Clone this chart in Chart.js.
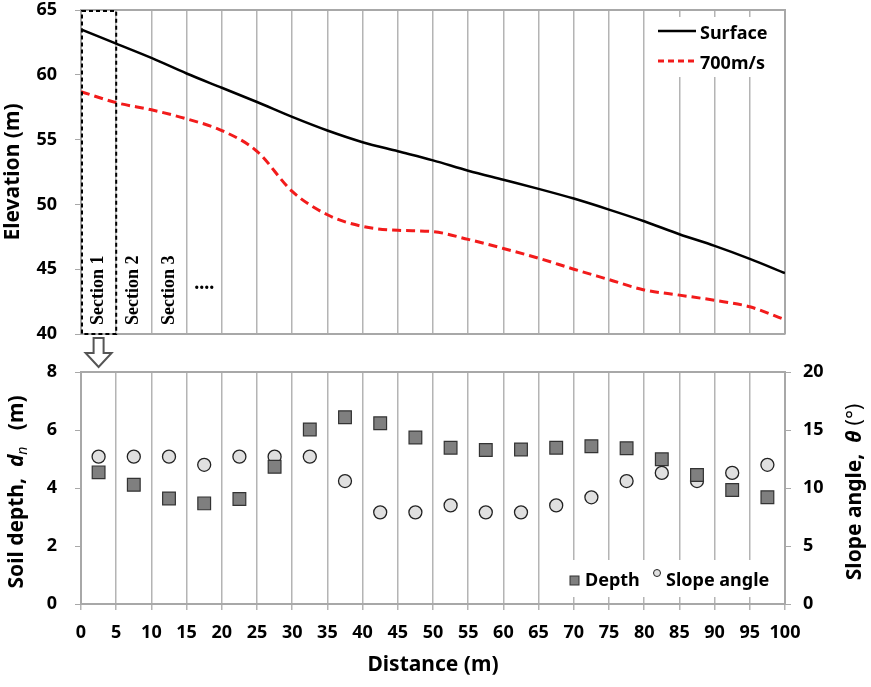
<!DOCTYPE html>
<html>
<head>
<meta charset="utf-8">
<script src="https://cdn.jsdelivr.net/npm/chart.js@4.4.1/dist/chart.umd.min.js"></script>
<style>
html,body{margin:0;padding:0;background:#fff}
#wrap{position:relative;width:871px;height:687px}
canvas{position:absolute;left:0}
</style>
</head>
<body>
<div id="wrap">
  <canvas id="top" width="871" height="372" style="top:0"></canvas>
  <canvas id="bot" width="871" height="347" style="top:340px"></canvas>
</div>
<script>
// profile (top)
const DIST=[0,5,10,15,20,25,30,35,40,45,50,55,60,65,70,75,80,85,90,95,100]
const SURFACE=[63.5,62.4,61.3,60.1,59.0,57.9,56.75,55.7,54.8,54.1,53.4,52.6,51.9,51.2,50.45,49.6,48.7,47.7,46.8,45.8,44.7]
const V700=[58.7,57.85,57.3,56.6,55.7,54.1,51.0,49.2,48.3,48.0,47.9,47.3,46.6,45.85,45.0,44.2,43.4,43.0,42.6,42.1,41.1]
const SECTION_LABELS=['Section 1','Section 2','Section 3']
const SECTION_MID=[2.5,7.5,12.5,17.5,22.5,27.5,32.5,37.5,42.5,47.5,52.5,57.5,62.5,67.5,72.5,77.5,82.5,87.5,92.5,97.5]

// sections (bottom)
const DEPTH=[4.54,4.11,3.64,3.47,3.62,4.73,6.02,6.44,6.23,5.74,5.39,5.31,5.33,5.39,5.44,5.37,4.99,4.45,3.93,3.68]
const SLOPE=[12.7,12.7,12.7,12.0,12.7,12.7,12.7,10.6,7.9,7.9,8.5,7.9,7.9,8.5,9.2,10.6,11.3,10.6,11.3,12.0]

const FONT='"Noto Sans", sans-serif'
const GRID_C='#b4b4b4', AXIS_C='#a8a8a8'
const tickFont={family:FONT,size:18,weight:'bold'}
const titleFont={family:FONT,size:21,weight:'bold'}
const pts=(xs,ys)=>ys.map((y,i)=>({x:xs[i],y}))

function drawRich(ctx,parts,cx,cy){
  let w=0
  parts.forEach(p=>{ctx.font=p.font;p.w=ctx.measureText(p.text).width;w+=p.w})
  ctx.save();ctx.translate(cx,cy);ctx.rotate(-Math.PI/2)
  ctx.textBaseline='middle';ctx.textAlign='left';ctx.fillStyle='#000'
  let px=-w/2
  parts.forEach(p=>{ctx.font=p.font;ctx.fillText(p.text,px,p.dy||0);px+=p.w})
  ctx.restore()
}

const topDecor={
  id:'topDecor',
  beforeDatasetsDraw(chart){
    const {ctx,chartArea:a,scales:{x}}=chart
    ctx.save()
    ctx.strokeStyle=AXIS_C;ctx.lineWidth=2
    ctx.beginPath();ctx.moveTo(a.left,a.top);ctx.lineTo(a.right,a.top);ctx.lineTo(a.right,a.bottom);ctx.stroke()
    ctx.fillStyle='#000';ctx.font='bold 18px "Liberation Serif", serif'
    ctx.textBaseline='middle';ctx.textAlign='left'
    SECTION_LABELS.forEach((t,i)=>{
      ctx.save();ctx.translate(x.getPixelForValue(SECTION_MID[i]),a.bottom-9);ctx.rotate(-Math.PI/2)
      ctx.fillText(t,0,0);ctx.restore()
    })
    ctx.textAlign='center';ctx.textBaseline='alphabetic';ctx.font='bold 20px "Liberation Serif", serif'
    ctx.fillText('....',x.getPixelForValue(SECTION_MID[3]),a.bottom-45)
    ctx.restore()
  },
  afterDatasetsDraw(chart){
    const {ctx,chartArea:a,scales:{x}}=chart
    ctx.save()
    // section 1 box
    const x0=x.getPixelForValue(0),x1=x.getPixelForValue(5)
    ctx.setLineDash([4,3]);ctx.strokeStyle='#000';ctx.lineWidth=2
    ctx.strokeRect(x0+1,a.top+1,x1-x0-1,a.bottom-a.top-1)
    ctx.setLineDash([])
    // arrow
    const cx=x.getPixelForValue(SECTION_MID[0]),y0=a.bottom+4
    ctx.beginPath()
    ctx.moveTo(cx-5,y0);ctx.lineTo(cx-5,y0+15);ctx.lineTo(cx-13,y0+15);ctx.lineTo(cx,y0+29)
    ctx.lineTo(cx+13,y0+15);ctx.lineTo(cx+5,y0+15);ctx.lineTo(cx+5,y0);ctx.closePath()
    ctx.fillStyle='#fff';ctx.fill();ctx.strokeStyle='#555';ctx.lineWidth=2;ctx.stroke()
    // legend
    ctx.fillStyle='#fff';ctx.fillRect(a.right-138,a.top+7,137,60)
    const lx=a.right-127
    chart.data.datasets.forEach((d,i)=>{
      const ly=a.top+21+i*30
      ctx.strokeStyle=d.borderColor;ctx.lineWidth=d.borderWidth
      ctx.setLineDash(i?[6,4]:[])
      ctx.beginPath();ctx.moveTo(lx,ly);ctx.lineTo(lx+38,ly);ctx.stroke()
      ctx.setLineDash([])
      ctx.fillStyle='#000';ctx.font='bold 18px '+FONT;ctx.textBaseline='middle';ctx.textAlign='left'
      ctx.fillText(d.label,lx+42,ly+3)
    })
    ctx.restore()
  }
}

new Chart(document.getElementById('top'),{
  type:'line',
  data:{datasets:[
    {label:'Surface',data:pts(DIST,SURFACE),borderColor:'#000',borderWidth:2.5,pointRadius:0,cubicInterpolationMode:'monotone'},
    {label:'700m/s',data:pts(DIST,V700),borderColor:'#f21b1b',borderWidth:3,borderDash:[9,5],pointRadius:0,cubicInterpolationMode:'monotone'}
  ]},
  options:{
    responsive:false,animation:false,devicePixelRatio:1,
    layout:{padding:{top:10,right:86,left:0,bottom:0}},
    plugins:{legend:{display:false},tooltip:{enabled:false}},
    scales:{
      x:{type:'linear',min:0,max:100,ticks:{stepSize:5,display:false},
        grid:{color:GRID_C,lineWidth:1.5,drawTicks:false},border:{color:AXIS_C,width:2},
        afterFit:s=>{s.height=38}},
      y:{min:40,max:65,ticks:{stepSize:5,color:'#000',font:tickFont,padding:18},
        grid:{drawOnChartArea:false,tickLength:6,color:AXIS_C},border:{color:AXIS_C,width:2},
        title:{display:true,text:'Elevation (m)',color:'#000',font:titleFont,padding:0},
        afterFit:s=>{s.width=81;s.paddingTop=0;s.paddingBottom=0}}
    }
  },
  plugins:[topDecor]
})

const botDecor={
  id:'botDecor',
  beforeDatasetsDraw(chart){
    const {ctx,chartArea:a}=chart
    ctx.save()
    ctx.strokeStyle=AXIS_C;ctx.lineWidth=2
    ctx.beginPath();ctx.moveTo(a.left,a.top);ctx.lineTo(a.right,a.top);ctx.stroke()
    ctx.restore()
  },
  afterDraw(chart){
    const {ctx,chartArea:a}=chart
    ctx.save()
    // legend box
    ctx.fillStyle='#fff';ctx.fillRect(a.right-220,a.bottom-44,219,37)
    const ly=a.bottom-23
    const ds=chart.data.datasets
    ctx.fillStyle=ds[0].backgroundColor;ctx.strokeStyle=ds[0].borderColor;ctx.lineWidth=1
    ctx.fillRect(a.right-215,ly-5,9,9);ctx.strokeRect(a.right-215,ly-5,9,9)
    ctx.beginPath();ctx.arc(a.right-128,ly-8,3.5,0,Math.PI*2)
    ctx.fillStyle=ds[1].backgroundColor;ctx.fill();ctx.strokeStyle=ds[1].borderColor;ctx.stroke()
    ctx.fillStyle='#000';ctx.font='bold 18px '+FONT;ctx.textBaseline='middle';ctx.textAlign='left'
    ctx.fillText(ds[0].label,a.right-200,ly)
    ctx.fillText(ds[1].label,a.right-119,ly)
    // axis titles
    const cy=(a.top+a.bottom)/2+4
    drawRich(ctx,[
      {text:'Soil depth,  ',font:'bold 21px '+FONT},
      {text:'d',font:'italic bold 21px '+FONT},
      {text:'n',font:'italic 14px '+FONT,dy:6},
      {text:'   (m)',font:'bold 21px '+FONT}
    ],17,cy)
    drawRich(ctx,[
      {text:'Slope angle,  ',font:'bold 21px '+FONT},
      {text:'θ',font:'italic bold 21px '+FONT},
      {text:' (°)',font:'21px '+FONT}
    ],855,cy)
    ctx.restore()
  }
}

new Chart(document.getElementById('bot'),{
  type:'scatter',
  data:{datasets:[
    {label:'Depth',data:pts(SECTION_MID,DEPTH),yAxisID:'y',pointStyle:'rect',pointRadius:9,
      backgroundColor:'#7f7f7f',borderColor:'#333',borderWidth:1.2},
    {label:'Slope angle',data:pts(SECTION_MID,SLOPE),yAxisID:'y2',pointStyle:'circle',pointRadius:6.5,
      backgroundColor:'#e0e0e0',borderColor:'#222',borderWidth:1.3}
  ]},
  options:{
    responsive:false,animation:false,devicePixelRatio:1,
    layout:{padding:{top:32,right:0,left:0,bottom:0}},
    plugins:{legend:{display:false},tooltip:{enabled:false}},
    scales:{
      x:{type:'linear',min:0,max:100,
        ticks:{stepSize:5,color:'#000',font:tickFont,padding:12,maxRotation:0,autoSkip:false},
        grid:{color:GRID_C,lineWidth:1.5,tickLength:6},border:{color:AXIS_C,width:2},
        title:{display:true,text:'Distance (m)',color:'#000',font:titleFont,padding:{top:0,bottom:9}},
        afterFit:s=>{s.height=83}},
      y:{position:'left',min:0,max:8,ticks:{stepSize:2,color:'#000',font:tickFont,padding:18},
        grid:{drawOnChartArea:false,tickLength:6,color:AXIS_C},border:{color:AXIS_C,width:2},
        afterFit:s=>{s.width=81}},
      y2:{position:'right',min:0,max:20,ticks:{stepSize:5,color:'#000',font:tickFont,padding:12},
        grid:{drawOnChartArea:false,tickLength:6,color:AXIS_C},border:{color:AXIS_C,width:2},
        afterFit:s=>{s.width=86}}
    }
  },
  plugins:[botDecor]
})
</script>
</body>
</html>
